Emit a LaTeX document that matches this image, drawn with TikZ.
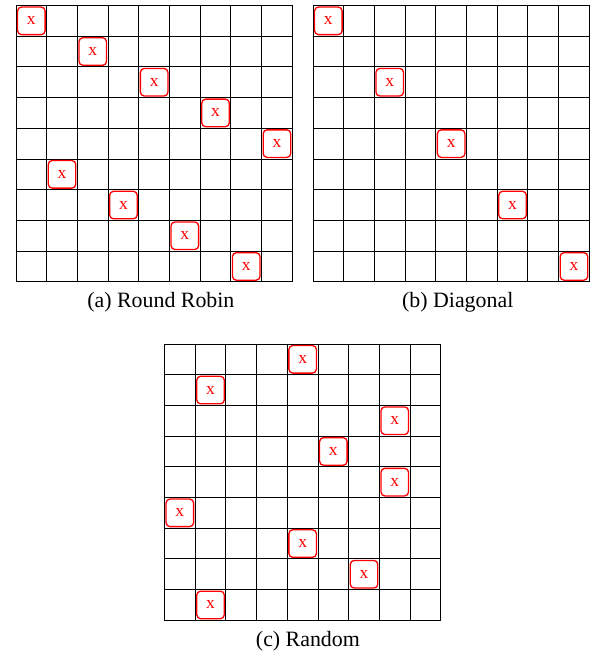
\documentclass[tikz,border=0pt]{standalone}
\usepackage{fontspec}
\setmainfont{Liberation Serif}
\begin{document}
\begin{tikzpicture}[x=14.03pt, y=14.03pt, cellx/.style = {draw=red, semithick, rounded corners=1.8pt, minimum size=12.6pt, inner sep=0pt, text=red, font=\footnotesize}, caption/.style = {font=\normalsize}]
\useasboundingbox (0,0) rectangle (19.283,21.368);
\begin{scope}[shift={(0.521,12.189)}]
\draw [thin, step=14.03pt] (0,0) grid (9,9);
\foreach \c/\r [count=\i] in {0/0,2/1,4/2,6/3,8/4,1/5,3/6,5/7,7/8} \node[cellx] (a\i) at (\c+0.5,8.5-\r) {x};
\end{scope}
\begin{scope}[shift={(10.195,12.189)}]
\draw [thin, step=14.03pt] (0,0) grid (9,9);
\foreach \c/\r [count=\i] in {0/0,2/2,4/4,6/6,8/8} \node[cellx] (b\i) at (\c+0.5,8.5-\r) {x};
\end{scope}
\begin{scope}[shift={(5.358,1.163)}]
\draw [thin, step=14.03pt] (0,0) grid (9,9);
\foreach \c/\r [count=\i] in {4/0,1/1,7/2,5/3,7/4,0/5,4/6,6/7,1/8} \node[cellx] (c\i) at (\c+0.5,8.5-\r) {x};
\end{scope}
\node[caption] (capa) at (5.24,11.53) {(a) Round Robin}; \node[caption] (capb) at (14.91,11.53) {(b) Diagonal}; \node[caption] (capc) at (10.03,0.489) {(c) Random};
\end{tikzpicture}
\end{document}
